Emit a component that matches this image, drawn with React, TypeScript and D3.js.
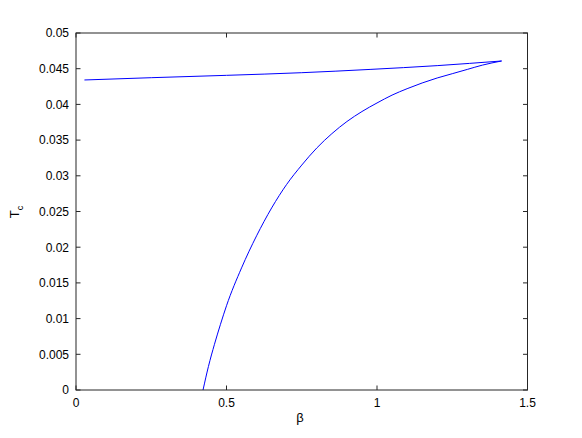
import React from "react";
import * as d3 from "d3";

const upperBeta = [0.028, 0.25, 0.5, 0.75, 0.977, 1.2, 1.414];
const upperTc = [0.04342, 0.04374, 0.04407, 0.04444, 0.04490, 0.04543, 0.04608];

const lowerBeta = [0.422, 0.44, 0.46, 0.48, 0.5, 0.55, 0.6, 0.65, 0.7, 0.75, 0.8, 0.85, 0.9, 0.95, 1.0, 1.05, 1.1, 1.15, 1.2, 1.25, 1.3, 1.35, 1.414];
const lowerTc = [0, 0.0033, 0.0064, 0.0092, 0.0118, 0.0171, 0.0216, 0.0255, 0.0288, 0.0315, 0.0339, 0.0359, 0.0376, 0.039, 0.0402, 0.0413, 0.0422, 0.043, 0.0437, 0.0443, 0.0449, 0.0455, 0.04608];

const xTicks = [0, 0.5, 1, 1.5];
const xTickLabels = ["0", "0.5", "1", "1.5"];
const yTicks = [0, 0.005, 0.01, 0.015, 0.02, 0.025, 0.03, 0.035, 0.04, 0.045, 0.05];
const yTickLabels = ["0", "0.005", "0.01", "0.015", "0.02", "0.025", "0.03", "0.035", "0.04", "0.045", "0.05"];

const W = 582;
const H = 438;
const L = 76;
const R = 527.5;
const T = 33;
const B = 390;

export default function App() {
  const x = d3.scaleLinear().domain([0, 1.5]).range([L, R]);
  const y = d3.scaleLinear().domain([0, 0.05]).range([B, T]);
  const line = d3
    .line<[number, number]>()
    .x((d) => x(d[0]))
    .y((d) => y(d[1]))
    .curve(d3.curveMonotoneX);
  const up = upperBeta.map((b, i) => [b, upperTc[i]] as [number, number]);
  const lo = lowerBeta.map((b, i) => [b, lowerTc[i]] as [number, number]);
  const font = "'Liberation Sans', Arial, Helvetica, sans-serif";
  const axisColor = "#262626";
  const tl = 4.5;
  return (
    <svg
      width={W}
      height={H}
      style={{ position: "absolute", left: 0, top: 0, background: "#fff" }}
      fontFamily={font}
    >
      <rect x={0} y={0} width={W} height={H} fill="#fff" />
      <path d={line(up) || ""} fill="none" stroke="#0000ff" strokeWidth={1} />
      <path d={line(lo) || ""} fill="none" stroke="#0000ff" strokeWidth={1} />
      <rect x={L} y={T} width={R - L} height={B - T} fill="none" stroke={axisColor} strokeWidth={1} />
      {xTicks.map((t, i) => (
        <g key={"x" + i}>
          <line x1={x(t)} x2={x(t)} y1={B} y2={B - tl} stroke={axisColor} />
          <line x1={x(t)} x2={x(t)} y1={T} y2={T + tl} stroke={axisColor} />
          <text x={x(t)} y={407} textAnchor="middle" fontSize={12} fill="#000">
            {xTickLabels[i]}
          </text>
        </g>
      ))}
      {yTicks.map((t, i) => (
        <g key={"y" + i}>
          <line x1={L} x2={L + tl} y1={y(t)} y2={y(t)} stroke={axisColor} />
          <line x1={R} x2={R - tl} y1={y(t)} y2={y(t)} stroke={axisColor} />
          <text x={69} y={y(t) + 4.3} textAnchor="end" fontSize={12} fill="#000">
            {yTickLabels[i]}
          </text>
        </g>
      ))}
      <text x={300} y={422} textAnchor="middle" fontSize={13} fill="#000">
        β
      </text>
      <text transform="translate(19,212) rotate(-90)" textAnchor="middle" fontSize={13} fill="#000">
        T<tspan dy={4} fontSize={9}>c</tspan>
      </text>
    </svg>
  );
}
